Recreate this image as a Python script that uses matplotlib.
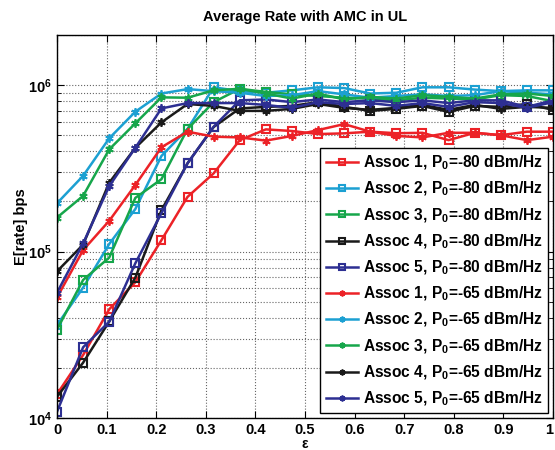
import numpy as np
import matplotlib
matplotlib.use('Agg')
import matplotlib.pyplot as plt
from matplotlib.ticker import LogLocator, LogFormatterMathtext, NullFormatter

plt.rcParams['font.family'] = ['Liberation Sans', 'DejaVu Sans']
plt.rcParams['font.weight'] = 'bold'
plt.rcParams['mathtext.fontset'] = 'custom'
plt.rcParams['mathtext.rm'] = 'Liberation Sans:bold'
plt.rcParams['mathtext.bf'] = 'Liberation Sans:bold'
plt.rcParams['mathtext.default'] = 'bf'

# epsilon grid (20 points)
eps = np.linspace(0, 1, 20)

# P0 = -80 dBm/Hz (square markers)
a1_80 = [1.39e4, 2.39e4, 4.5e4, 6.54e4, 1.17e5, 2.13e5, 2.95e5, 4.67e5, 5.42e5, 5.3e5,
         5.08e5, 5.13e5, 5.25e5, 5.14e5, 5.17e5, 4.67e5, 5.17e5, 5.0e5, 5.25e5, 5.25e5]
a2_80 = [3.62e4, 6.07e4, 1.11e5, 1.8e5, 3.75e5, 5.45e5, 9.7e5, 9.2e5, 9.0e5, 9.3e5,
         9.7e5, 9.6e5, 8.9e5, 9.0e5, 9.7e5, 9.7e5, 9.4e5, 9.2e5, 9.3e5, 9.3e5]
a3_80 = [3.4e4, 6.75e4, 9.2e4, 2.1e5, 2.72e5, 5.45e5, 7.9e5, 9.5e5, 9.1e5, 8.8e5,
         8.6e5, 8.4e5, 8.3e5, 8.1e5, 8.4e5, 8.3e5, 8.2e5, 8.7e5, 8.6e5, 8.0e5]
a4_80 = [1.34e4, 2.15e4, 3.8e4, 6.97e4, 1.77e5, 3.39e5, 5.6e5, 7.24e5, 7.4e5, 7.5e5,
         7.9e5, 7.4e5, 7.0e5, 7.2e5, 7.5e5, 6.9e5, 7.5e5, 7.4e5, 7.7e5, 7.1e5]
a5_80 = [1.09e4, 2.66e4, 3.79e4, 8.5e4, 1.7e5, 3.39e5, 5.62e5, 8.1e5, 8.2e5, 7.9e5,
         8.2e5, 7.9e5, 8.1e5, 7.9e5, 8.1e5, 7.8e5, 8.1e5, 8.1e5, 7.4e5, 8.1e5]

# P0 = -65 dBm/Hz (asterisk markers)
a1_65 = [5.3e4, 1.02e5, 1.53e5, 2.51e5, 4.23e5, 5.25e5, 4.9e5, 4.85e5, 4.64e5, 4.95e5,
         5.37e5, 5.83e5, 5.25e5, 4.95e5, 4.85e5, 5.17e5, 5.17e5, 5.0e5, 4.67e5, 4.9e5]
a2_65 = [1.95e5, 2.85e5, 4.79e5, 6.92e5, 8.9e5, 9.46e5, 9.2e5, 9.0e5, 8.6e5, 8.7e5,
         9.2e5, 8.8e5, 8.4e5, 8.6e5, 8.8e5, 8.6e5, 8.7e5, 9.2e5, 9.0e5, 8.8e5]
a3_65 = [1.6e5, 2.16e5, 4.11e5, 5.89e5, 8.44e5, 8.4e5, 9.3e5, 9.5e5, 8.9e5, 8.3e5,
         8.9e5, 8.2e5, 8.5e5, 8.3e5, 8.7e5, 8.5e5, 8.3e5, 8.8e5, 8.9e5, 8.6e5]
a4_65 = [7.6e4, 1.1e5, 2.59e5, 4.2e5, 5.97e5, 7.7e5, 7.5e5, 7.0e5, 7.0e5, 7.2e5,
         7.7e5, 7.3e5, 7.1e5, 7.3e5, 7.6e5, 7.1e5, 7.6e5, 7.2e5, 7.4e5, 7.3e5]
a5_65 = [5.66e4, 1.12e5, 2.47e5, 4.2e5, 7.24e5, 7.8e5, 7.8e5, 7.8e5, 7.6e5, 7.3e5,
         7.9e5, 7.7e5, 7.8e5, 7.5e5, 7.8e5, 7.4e5, 7.9e5, 7.8e5, 7.3e5, 7.9e5]

colors = ['#ec2227', '#1ca0d2', '#16a64b', '#1a1a1a', '#2d2f92']
series_80 = [a1_80, a2_80, a3_80, a4_80, a5_80]
series_65 = [a1_65, a2_65, a3_65, a4_65, a5_65]

fig = plt.figure(figsize=(5.55, 4.5), dpi=100)
ax = fig.add_axes([57/555, 1-418/450, 496/555, 383/450])

asterisk = (6, 2, 0)
for i, (y, c) in enumerate(zip(series_80, colors)):
    ax.plot(eps, y, color=c, lw=1.8, marker='s', ms=6, mfc='none', mew=1.5,
            label=r'Assoc %d, P$_0$=-80 dBm/Hz' % (i + 1))
for i, (y, c) in enumerate(zip(series_65, colors)):
    ax.plot(eps, y, color=c, lw=1.8, marker=asterisk, ms=6, mew=1.3,
            label=r'Assoc %d, P$_0$=-65 dBm/Hz' % (i + 1))

ax.set_yscale('log')
ax.set_xlim(0, 1)
ax.set_ylim(1e4, 2e6)
ax.set_xticks(np.arange(0, 1.01, 0.1))
ax.set_xticklabels(['0', '0.1', '0.2', '0.3', '0.4', '0.5', '0.6', '0.7', '0.8', '0.9', '1'])
ax.get_xticklabels()[-1].set_horizontalalignment('right')
ax.yaxis.set_major_locator(LogLocator(base=10, numticks=10))
ax.yaxis.set_major_formatter(LogFormatterMathtext())
ax.yaxis.set_minor_locator(LogLocator(base=10, subs=np.arange(2, 10), numticks=20))
ax.yaxis.set_minor_formatter(NullFormatter())

ax.grid(True, which='major', axis='both', ls=':', lw=0.8, color='#666666')
ax.grid(True, which='minor', axis='y', ls=':', lw=0.8, color='#666666')
ax.tick_params(which='both', direction='in', top=True, right=True, labelsize=10.5)
ax.tick_params(which='major', length=5)
ax.tick_params(which='minor', length=3)
for s in ax.spines.values():
    s.set_linewidth(1.0)

ax.set_title('Average Rate with AMC in UL', fontsize=10.5, fontweight='bold', pad=10)
ax.set_xlabel('ε', fontsize=10, fontweight='bold', labelpad=0)
ax.set_ylabel('E[rate] bps', fontsize=10.5, fontweight='bold', labelpad=0)

leg = ax.legend(loc='lower right', fontsize=11.2, frameon=True, fancybox=False,
                edgecolor='black', framealpha=1, borderaxespad=0.3, markerscale=0.7,
                handlelength=2.1, labelspacing=0.5, borderpad=0.35, handletextpad=0.3)
leg.get_frame().set_linewidth(1.0)

fig.savefig('out.png', dpi=100)
